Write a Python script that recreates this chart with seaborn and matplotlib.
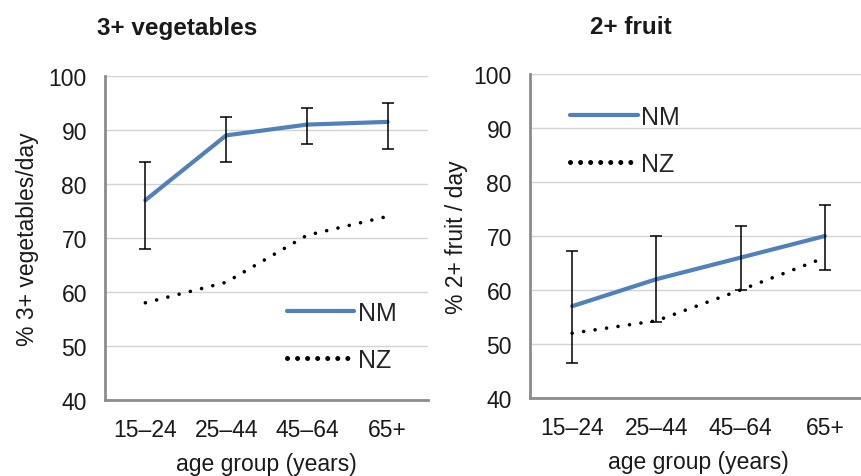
import numpy as np
import pandas as pd
import matplotlib
matplotlib.use("Agg")
import matplotlib.pyplot as plt
import seaborn as sns

# data
ages = ["15–24", "25–44", "45–64", "65+"]

veg_nm = [77.0, 89.0, 91.0, 91.5]
veg_nm_lo = [68.0, 84.0, 87.5, 86.5]
veg_nm_hi = [84.0, 92.5, 94.0, 95.0]
veg_nz = [58.0, 61.8, 70.5, 74.0]

fruit_nm = [57.0, 62.0, 66.0, 70.0]
fruit_nm_lo = [46.5, 54.0, 60.0, 63.7]
fruit_nm_hi = [67.3, 70.0, 71.8, 75.7]
fruit_nz = [52.0, 54.3, 60.0, 66.0]

yticks = [40, 50, 60, 70, 80, 90, 100]

sns.set_style("white")
plt.rcParams['font.family'] = ['Liberation Sans', 'DejaVu Sans']
plt.rcParams['lines.dash_capstyle'] = 'round'

TXT = "#1a1a1a"
BLUE = "#4f81bd"
SPINE = "#8c8c8c"
FS = 16.5


def panel(ax, nm, lo, hi, nz, ylabel, leg_anchor, leg_loc):
    df = pd.DataFrame({"age": ages, "NM": nm, "NZ": nz})
    x = np.arange(len(ages))
    sns.lineplot(data=df, x="age", y="NM", ax=ax, color=BLUE, lw=3, label="NM",
                 sort=False, zorder=3)
    sns.lineplot(data=df, x="age", y="NZ", ax=ax, color="black", lw=2.6,
                 linestyle=(0, (0.01, 3.2)), label="NZ", sort=False, zorder=2)
    nm_a = np.array(nm)
    yerr = [nm_a - np.array(lo), np.array(hi) - nm_a]
    ax.errorbar(x, nm_a, yerr=yerr, fmt="none", ecolor="black", elinewidth=1.1,
                capsize=4.3, capthick=1.1, zorder=4)

    ax.set_ylim(40, 100)
    ax.set_yticks(yticks)
    ax.set_xlim(-0.5, len(ages) - 0.5)
    ax.set_xticks(x)
    ax.set_xticklabels(ages)
    ax.set_xticks(np.arange(-0.5, len(ages) - 0.4, 1.0), minor=True)
    ax.tick_params(axis="x", which="major", length=0, pad=13, labelsize=FS, colors=TXT)
    ax.tick_params(axis="x", which="minor", length=5, width=1.5, color=SPINE, direction="out")
    ax.tick_params(axis="y", length=5, width=1.5, color=SPINE, direction="out",
                   labelsize=FS, labelcolor=TXT, pad=8)
    ax.grid(axis="y", color="#d4d4d4", lw=1)
    ax.set_axisbelow(True)
    for s in ["top", "right"]:
        ax.spines[s].set_visible(False)
    for s in ["left", "bottom"]:
        ax.spines[s].set_color(SPINE)
        ax.spines[s].set_linewidth(2)
    ax.set_xlabel("age group (years)", fontsize=FS, color=TXT, labelpad=8)
    ax.set_ylabel(ylabel, fontsize=FS, color=TXT, labelpad=7)
    leg = ax.legend(loc=leg_loc, bbox_to_anchor=leg_anchor, frameon=False, fontsize=18,
                    handlelength=2.7, handletextpad=0.15, labelspacing=0.92,
                    borderpad=0, borderaxespad=0)
    nz_handle = leg.get_lines()[1]
    nz_handle.set_linewidth(3.6)
    nz_handle.set_dashes((0.01, 2.0))


fig = plt.figure(figsize=(8.61, 4.77), dpi=100)
ax1 = fig.add_axes([105 / 861, 1 - 401 / 477, 323 / 861, 324 / 477])
ax2 = fig.add_axes([530 / 861, 1 - 399 / 477, 337 / 861, 324 / 477])

panel(ax1, veg_nm, veg_nm_lo, veg_nm_hi, veg_nz, "% 3+ vegetables/day",
      (0.563, 0.197), "center left")
panel(ax2, fruit_nm, fruit_nm_lo, fruit_nm_hi, fruit_nz, "% 2+ fruit / day",
      (0.119, 0.795), "center left")
ax2.yaxis.labelpad = 4

fig.text(97 / 861, 1 - 28 / 477, "3+ vegetables", fontsize=17.5, fontweight="bold",
         color=TXT, ha="left", va="center")
fig.text(590 / 861, 1 - 28 / 477, "2+ fruit", fontsize=17.5, fontweight="bold",
         color=TXT, ha="left", va="center")

fig.savefig("out.png", dpi=100)
